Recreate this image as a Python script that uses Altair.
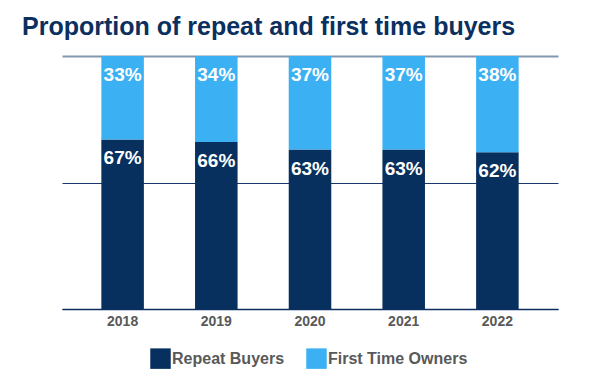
import altair as alt
import pandas as pd

years = ["2018", "2019", "2020", "2021", "2022"]
repeat_buyers = [67, 66, 63, 63, 62]
first_time = [33, 34, 37, 37, 38]
series = ["Repeat Buyers", "First Time Owners"]
colors = ["#07305f", "#3bb1f3"]

rows = []
for i, yr in enumerate(years):
    rows.append({"year": yr, "series": series[0], "value": repeat_buyers[i], "order": 0})
    rows.append({"year": yr, "series": series[1], "value": first_time[i], "order": 1})
df = pd.DataFrame(rows)
df["label"] = df["value"].astype(str) + "%"

FONT = "Liberation Sans"
NAVY = "#0b2f5e"
GRAY = "#595959"

base = alt.Chart(df).transform_stack(
    stack="value", groupby=["year"], as_=["y0", "y1"],
    sort=[alt.SortField("order", order="ascending")]
)

x_enc = alt.X(
    "year:N",
    sort=years,
    scale=alt.Scale(paddingInner=0.546, paddingOuter=0.42),
    axis=alt.Axis(
        title=None, labelAngle=0, ticks=False, labelPadding=5,
        labelFont=FONT, labelFontSize=14, labelFontWeight="bold",
        labelColor=GRAY, domainColor=NAVY, domainWidth=1.5,
    ),
)

y_scale = alt.Scale(domain=[0, 100], nice=False)

bars = base.mark_bar().encode(
    x=x_enc,
    y=alt.Y(
        "y0:Q", scale=y_scale,
        axis=alt.Axis(
            title=None, values=[0, 50, 100], labels=False, ticks=False,
            domain=False, grid=True,
            gridColor={"condition": {"test": "datum.value === 100", "value": "#8497b0"}, "value": "#16386b"},
            gridWidth={"condition": {"test": "datum.value === 100", "value": 2}, "value": 1.2},
        ),
    ),
    y2="y1:Q",
    color=alt.Color(
        "series:N",
        scale=alt.Scale(domain=series, range=colors),
        legend=alt.Legend(
            title=None, orient="none", legendX=88, legendY=292,
            direction="horizontal", columns=2, symbolType="square",
            symbolSize=420, symbolStrokeWidth=0, labelFont=FONT,
            labelFontSize=16, labelFontWeight="bold", labelColor=GRAY,
            labelOffset=1, columnPadding=21,
        ),
    ),
)

labels = base.mark_text(
    font=FONT, fontSize=19, fontWeight="bold", color="white",
    baseline="middle", dy=19,
).encode(
    x=alt.X("year:N", sort=years),
    y=alt.Y("y1:Q", scale=y_scale),
    text="label:N",
)

chart = alt.layer(bars, labels).properties(
    width=496,
    height=253,
    padding={"left": 14, "top": 7, "right": 5, "bottom": 5},
    title=alt.TitleParams(
        "Proportion of repeat and first time buyers",
        anchor="start", dx=-40, offset=16, font=FONT, fontSize=25,
        fontWeight="bold", color=NAVY,
    ),
).configure_view(strokeWidth=0)

chart.save("out.html", embed_options={"renderer": "svg", "actions": False})
